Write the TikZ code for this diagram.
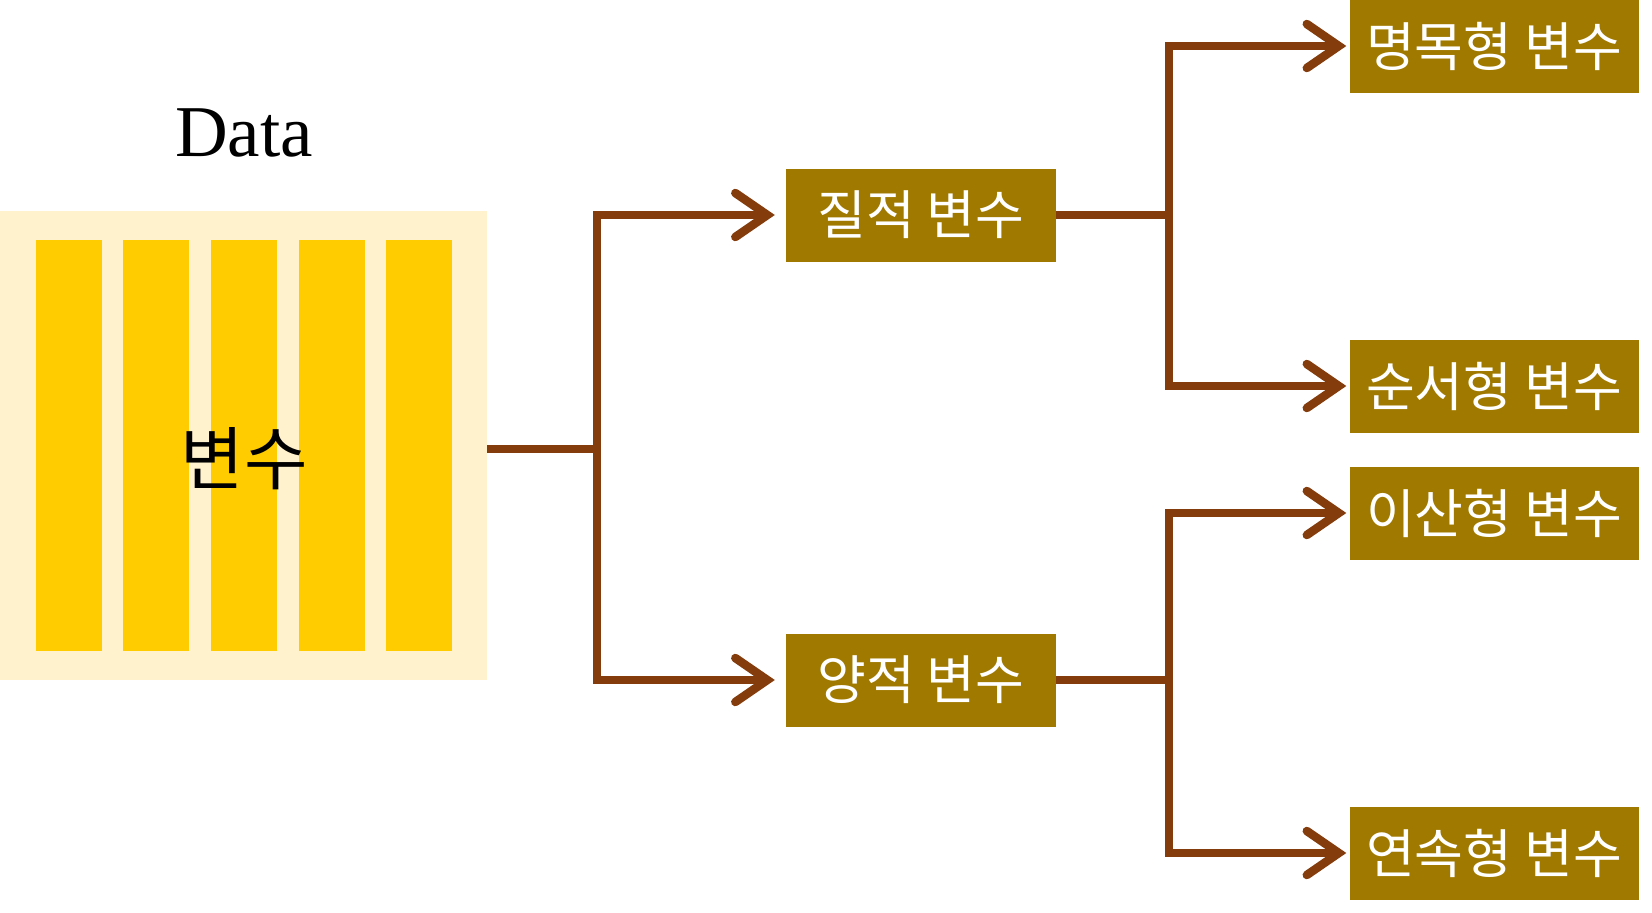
\documentclass[tikz,border=0pt]{standalone}
\usepackage{fontspec}
\setmainfont{Liberation Serif}
\newfontfamily\kr{Noto Sans CJK KR}
\usetikzlibrary{arrows.meta}
\definecolor{brownline}{HTML}{843C0C}
\definecolor{boxc}{HTML}{A07A00}
\definecolor{lightbg}{HTML}{FFF2CC}
\definecolor{barc}{HTML}{FFCC00}
\tikzset{
  conn/.style={draw=brownline, line width=8.5pt, line join=miter},
  arr/.style={conn, shorten >=11pt, -{Straight Barb[length=32pt,width=44pt,line cap=round]}},
  leafarr/.style={arr, shorten >=3pt},
  catbox/.style={fill=boxc, inner sep=0pt, minimum height=93pt, text=white, font=\kr\fontsize{53}{56}\selectfont},
  midbox/.style={catbox, minimum width=270pt},
  leafbox/.style={catbox, minimum width=289pt},
  barbox/.style={fill=barc, inner sep=0pt, minimum width=66pt, minimum height=411pt},
}
\begin{document}
\begin{tikzpicture}[x=1pt,y=-1pt]
\useasboundingbox (0,0) rectangle (1652,913);
% data block
\node[fill=lightbg, inner sep=0pt, minimum width=487pt, minimum height=469pt, anchor=north west] (src) at (0,211) {};
\node[barbox] (b1) at (69,445) {};
\node[barbox] (b2) at (156,445) {};
\node[barbox] (b3) at (244,445) {};
\node[barbox] (b4) at (332,445) {};
\node[barbox] (b5) at (419,445) {};
\node[font=\fontsize{73}{80}\selectfont] (title) at (244,133) {Data};
\node[font=\kr\fontsize{69}{74}\selectfont] (var) at (244,459) {변수};
% level 1
\node[midbox] (qual) at (921,215) {질적 변수};
\node[midbox] (quan) at (921,680) {양적 변수};
% level 2
\node[leafbox] (nom) at (1494,46) {명목형 변수};
\node[leafbox] (ord) at (1494,386) {순서형 변수};
\node[leafbox] (dis) at (1494,513) {이산형 변수};
\node[leafbox] (con) at (1494,853) {연속형 변수};
% connectors
\coordinate (j1) at (597,449);
\coordinate (j2) at (1169,215);
\coordinate (j3) at (1169,680);
\draw[conn] (src.east |- j1) -- (j1);
\draw[arr] (j1) |- (qual.west);
\draw[arr] (j1) |- (quan.west);
\draw[conn] (qual.east) -- (j2);
\draw[leafarr] (j2) |- (nom.west);
\draw[leafarr] (j2) |- (ord.west);
\draw[conn] (quan.east) -- (j3);
\draw[leafarr] (j3) |- (dis.west);
\draw[leafarr] (j3) |- (con.west);
\end{tikzpicture}
\end{document}
